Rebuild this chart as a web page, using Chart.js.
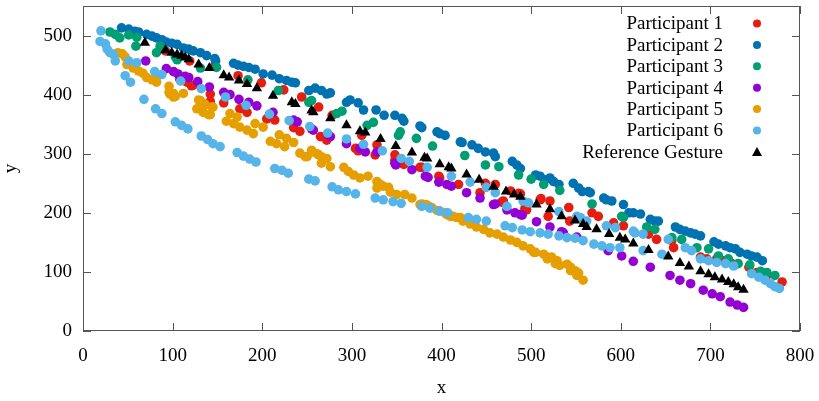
<!DOCTYPE html>
<html>
<head>
<meta charset="utf-8">
<script src="https://cdn.jsdelivr.net/npm/chart.js@4"></script>
<style>
  html, body { margin: 0; padding: 0; background: #fff; }
  #wrap { width: 819px; height: 401px; }
</style>
</head>
<body>
<div id="wrap"><canvas id="chart"></canvas></div>
<script>
// values, [x, y]
var p1 = [[92,474],[108,426],[116,421],[119,457],[121,415],[123,416],[142,401],[142,388],[147,449],[157,386],[173,432],[175,376],[183,370],[199,420],[205,359],[214,357],[224,408],[235,344],[242,338],[244,396],[263,379],[265,329],[272,323],[278,365],[304,309],[307,305],[311,331],[326,298],[328,315],[348,298],[348,289],[352,287],[356,284],[358,282],[376,277],[378,277],[397,262],[398,259],[419,248],[443,234],[449,250],[460,248],[467,218],[469,220],[477,237],[486,233],[488,232],[493,207],[495,205],[510,222],[511,224],[519,194],[521,220],[542,209],[543,186],[568,200],[575,194],[592,183],[603,178],[631,164],[640,155],[657,153],[659,141],[689,125],[696,122],[707,122],[715,119],[724,114],[743,108],[752,99],[763,94],[780,83]];

var p2 = [[43,513],[51,511],[58,507],[62,506],[71,502],[77,499],[82,496],[88,493],[93,489],[99,487],[105,485],[112,479],[118,477],[123,474],[131,471],[138,466],[147,461],[148,457],[168,453],[173,450],[179,448],[185,446],[192,443],[201,435],[211,433],[219,427],[227,424],[233,421],[237,420],[252,407],[259,411],[266,407],[272,401],[276,403],[294,387],[298,391],[307,386],[313,374],[327,374],[336,365],[348,365],[356,360],[358,355],[376,347],[378,344],[395,337],[398,334],[404,331],[421,320],[423,319],[434,315],[441,309],[449,303],[458,301],[460,295],[479,287],[484,281],[488,275],[505,264],[510,262],[516,256],[521,259],[525,253],[531,248],[547,250],[553,242],[557,236],[564,236],[566,234],[581,225],[584,222],[590,220],[603,214],[609,200],[614,200],[622,198],[633,189],[638,186],[642,186],[661,176],[666,172],[672,169],[678,166],[683,164],[689,161],[704,151],[709,147],[717,144],[722,141],[728,139],[733,133],[741,130],[746,127],[752,125],[758,119]];

var p3 = [[30,506],[36,502],[41,496],[51,501],[60,497],[59,482],[82,471],[86,482],[103,464],[105,459],[131,445],[149,446],[184,425],[218,407],[252,387],[255,390],[283,368],[289,372],[317,348],[324,353],[352,331],[354,337],[372,326],[390,313],[426,297],[449,281],[464,278],[486,264],[500,257],[514,248],[532,238],[568,215],[601,194],[603,192],[629,176],[638,172],[657,158],[668,155],[685,141],[698,139],[709,127],[720,122],[731,114],[744,112],[756,101],[763,99],[772,94]];

var p4 = [[70,457],[93,444],[101,439],[106,435],[114,431],[118,429],[128,422],[141,413],[157,404],[164,400],[174,392],[185,387],[194,381],[212,370],[235,357],[239,354],[255,342],[257,340],[274,331],[276,329],[294,317],[309,309],[315,303],[328,303],[348,284],[349,281],[367,273],[382,262],[385,260],[397,252],[406,248],[411,245],[428,234],[443,225],[458,214],[460,215],[473,205],[482,200],[488,197],[490,196],[506,185],[521,176],[534,168],[536,166],[551,159],[586,136],[601,127],[614,118],[633,108],[655,94],[666,86],[678,80],[692,69],[702,63],[711,58],[722,49],[730,44],[737,40]];

var p5 = [[39,471],[44,469],[47,464],[49,451],[56,445],[62,440],[67,436],[71,429],[77,425],[82,421],[82,429],[96,414],[96,404],[97,401],[101,396],[101,402],[103,397],[112,402],[127,376],[129,391],[131,390],[134,370],[136,384],[136,382],[140,366],[142,366],[144,379],[145,379],[160,355],[164,368],[168,351],[172,362],[175,345],[183,340],[190,334],[192,351],[201,345],[209,321],[216,317],[219,332],[225,312],[227,326],[235,319],[242,301],[248,295],[250,295],[255,303],[255,306],[261,300],[263,298],[266,295],[266,284],[272,292],[276,278],[291,277],[296,270],[302,264],[309,259],[318,262],[328,253],[328,242],[332,248],[335,245],[341,243],[343,235],[350,231],[359,231],[367,225],[376,214],[378,215],[382,214],[384,213],[387,210],[389,209],[395,204],[398,203],[404,200],[406,197],[410,194],[413,194],[417,192],[421,192],[424,186],[428,189],[432,181],[439,176],[447,172],[454,166],[462,164],[469,159],[477,154],[484,150],[491,144],[499,139],[503,133],[505,133],[514,130],[518,122],[518,125],[523,125],[527,114],[529,119],[532,111],[540,113],[544,108],[544,102],[549,102],[551,94],[553,98],[558,86]];

var p6 = [[20,508],[19,490],[25,486],[27,477],[30,471],[34,468],[36,457],[47,432],[51,457],[53,421],[60,454],[68,392],[80,439],[81,376],[88,434],[88,368],[103,354],[109,423],[110,348],[117,342],[132,410],[132,330],[139,324],[145,317],[153,312],[159,396],[172,302],[179,296],[182,382],[186,291],[193,286],[208,367],[214,275],[222,272],[229,267],[230,356],[252,257],[253,346],[259,254],[273,335],[278,244],[285,239],[294,236],[294,325],[304,232],[313,316],[326,225],[334,305],[335,222],[346,219],[355,216],[355,292],[364,287],[378,211],[384,277],[387,208],[398,203],[407,200],[411,262],[430,192],[432,252],[439,189],[450,243],[450,186],[460,234],[471,178],[473,211],[479,175],[490,171],[491,220],[497,217],[499,168],[510,166],[519,164],[531,161],[531,202],[540,158],[549,157],[551,194],[555,192],[558,153],[562,186],[570,147],[579,144],[584,178],[588,141],[594,175],[599,141],[614,169],[616,166],[625,164],[625,136],[646,130],[653,155],[672,141],[679,136],[689,122],[698,119],[707,116],[717,114],[726,110],[746,97],[754,91],[761,86],[767,80],[772,75],[777,72]];

var reference = [[69,488],[92,475],[99,471],[105,468],[110,466],[114,463],[118,460],[129,451],[141,445],[157,433],[163,429],[174,424],[183,418],[194,411],[212,398],[233,387],[237,384],[255,373],[257,370],[276,360],[294,348],[309,338],[315,336],[332,325],[349,313],[367,302],[381,293],[384,292],[398,282],[408,277],[411,275],[428,265],[442,256],[458,244],[472,236],[481,231],[488,227],[506,214],[521,206],[534,194],[549,187],[558,181],[562,176],[573,172],[587,164],[599,158],[605,155],[614,148],[631,137],[653,126],[666,115],[676,109],[689,101],[698,96],[705,91],[713,87],[720,83],[726,79],[731,74],[737,70]];

var labels = ['Participant 1', 'Participant 2', 'Participant 3', 'Participant 4', 'Participant 5', 'Participant 6', 'Reference Gesture'];
var series = [p1, p2, p3, p4, p5, p6, reference];
var colors = ['#e51e10', '#0072b2', '#009e73', '#9400d3', '#e69f00', '#56b4e9', '#000000'];

var xTicks = [0, 100, 200, 300, 400, 500, 600, 700, 800];
var yTicks = [0, 100, 200, 300, 400, 500];

Chart.defaults.font.family = "'Liberation Serif', 'Times New Roman', serif";
Chart.defaults.font.size = 19;
Chart.defaults.color = '#000';

var axisColor = '#555';

// gnuplot style box with inward ticks on all four sides
var frame = {
  id: 'frame',
  beforeDatasetsDraw(chart) {
    var ctx = chart.ctx, a = chart.chartArea;
    var sx = chart.scales.x, sy = chart.scales.y;
    ctx.save();
    ctx.strokeStyle = axisColor;
    ctx.lineWidth = 1;
    ctx.strokeRect(Math.round(a.left) + 0.5, Math.round(a.top) + 0.5,
      Math.round(a.right - a.left) - 1, Math.round(a.bottom - a.top) - 1);
    ctx.beginPath();
    xTicks.forEach(function (v) {
      var px = Math.round(sx.getPixelForValue(v)) + 0.5;
      ctx.moveTo(px, a.bottom); ctx.lineTo(px, a.bottom - 8);
      ctx.moveTo(px, a.top); ctx.lineTo(px, a.top + 8);
    });
    yTicks.forEach(function (v) {
      var py = Math.round(sy.getPixelForValue(v)) + 0.5;
      ctx.moveTo(a.left, py); ctx.lineTo(a.left + 8, py);
      ctx.moveTo(a.right, py); ctx.lineTo(a.right - 8, py);
    });
    ctx.stroke();
    ctx.restore();
  }
};

// key in the top right corner: text right aligned, marker after it
var key = {
  id: 'key',
  afterDatasetsDraw(chart) {
    var ctx = chart.ctx;
    ctx.save();
    ctx.font = "19px 'Liberation Serif', 'Times New Roman', serif";
    ctx.textAlign = 'right';
    ctx.textBaseline = 'middle';
    labels.forEach(function (name, i) {
      var y = 23.5 + i * 21.4;
      ctx.fillStyle = '#000';
      ctx.fillText(name, 723, y + 1);
      ctx.fillStyle = colors[i];
      ctx.beginPath();
      if (i === labels.length - 1) {
        ctx.moveTo(757, y - 5);
        ctx.lineTo(762, y + 4);
        ctx.lineTo(752, y + 4);
        ctx.closePath();
      } else {
        ctx.arc(757, y, 4, 0, Math.PI * 2);
      }
      ctx.fill();
    });
    ctx.restore();
  }
};

var datasets = series.map(function (pts, i) {
  var isRef = i === series.length - 1;
  return {
    label: labels[i],
    data: pts.map(function (p) { return { x: p[0], y: p[1] }; }),
    backgroundColor: colors[i],
    borderColor: colors[i],
    borderWidth: 0,
    pointStyle: isRef ? 'triangle' : 'circle',
    pointRadius: isRef ? 6 : 4.8,
    order: series.length - 1 - i
  };
});

new Chart(document.getElementById('chart'), {
  type: 'scatter',
  data: { datasets: datasets },
  options: {
    responsive: true,
    maintainAspectRatio: false,
    animation: false,
    layout: { padding: { top: 3, right: 19, left: 0, bottom: 0 } },
    plugins: {
      legend: { display: false },
      tooltip: { enabled: false }
    },
    scales: {
      x: {
        type: 'linear',
        min: 0,
        max: 800,
        afterFit: function (s) { s.height = 70; s.paddingLeft = 0; s.paddingRight = 0; },
        afterBuildTicks: function (s) { s.ticks = xTicks.map(function (v) { return { value: v }; }); },
        grid: { display: false, drawTicks: false },
        border: { display: false },
        ticks: { padding: 14, maxRotation: 0 },
        title: { display: true, text: 'x', padding: { top: 0, bottom: 2 } }
      },
      y: {
        type: 'linear',
        min: 0,
        max: 550,
        afterFit: function (s) { s.width = 83; s.paddingTop = 0; s.paddingBottom = 0; },
        afterBuildTicks: function (s) { s.ticks = yTicks.map(function (v) { return { value: v }; }); },
        grid: { display: false, drawTicks: false },
        border: { display: false },
        ticks: { padding: 11 },
        title: { display: true, text: 'y', padding: { top: 0, bottom: 4 } }
      }
    }
  },
  plugins: [frame, key]
});
</script>
</body>
</html>
